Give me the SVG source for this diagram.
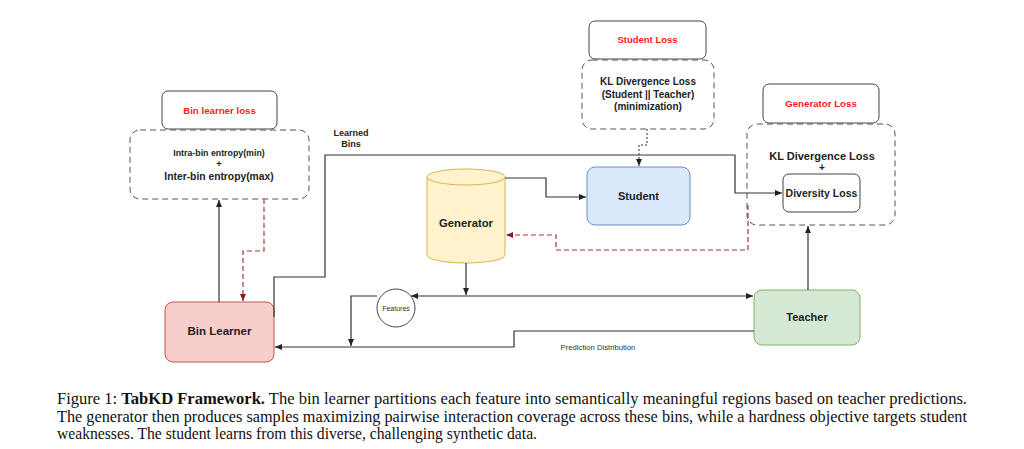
<svg xmlns="http://www.w3.org/2000/svg" width="1024" height="449" viewBox="0 0 1024 449">
<defs>
<marker id="ah" markerWidth="8" markerHeight="8" refX="7" refY="4" orient="auto" markerUnits="userSpaceOnUse">
<path d="M0,1 L7,4 L0,7 Z" fill="#222"/>
</marker>
<marker id="ahr" markerWidth="8" markerHeight="8" refX="7" refY="4" orient="auto" markerUnits="userSpaceOnUse">
<path d="M0,1 L7,4 L0,7 Z" fill="#8b1a1a"/>
</marker>
<style>
.lbl{font-family:"Liberation Sans",Arial,sans-serif;font-weight:bold;text-anchor:middle;fill:#222}
.red{fill:#ff1a1a}
.sm{font-family:"Liberation Sans",Arial,sans-serif;text-anchor:middle;fill:#333}
.solid{fill:#fff;stroke:#444;stroke-width:1}
.dash{fill:none;stroke:#555;stroke-width:1;stroke-dasharray:6 4}
.ln{fill:none;stroke:#333;stroke-width:1.2}
.rd{fill:none;stroke:#a33;stroke-width:1.2;stroke-dasharray:5 3}
.cap{font-family:"Liberation Serif","Times New Roman",serif;font-size:16px;fill:#111}
</style>
</defs>
<rect width="1024" height="449" fill="#fff"/>

<g id="bin-loss">
<rect class="solid" x="162" y="91" width="115" height="38" rx="6"/>
<text class="lbl red" x="219.5" y="114" font-size="9.7">Bin learner loss</text>
<rect class="dash" x="130" y="130" width="179" height="69" rx="10"/>
<text class="lbl" x="219" y="156" font-size="8.8">Intra-bin entropy(min)</text>
<text class="lbl" x="219" y="167" font-size="9.5">+</text>
<text class="lbl" x="219" y="180" font-size="10.3">Inter-bin entropy(max)</text>
</g>

<g id="student-loss">
<rect class="solid" x="589" y="21" width="117" height="38" rx="6"/>
<text class="lbl red" x="647.5" y="43" font-size="9.5">Student Loss</text>
<rect class="dash" x="582" y="60" width="132" height="69" rx="10"/>
<text class="lbl" x="648" y="85" font-size="10">KL Divergence Loss</text>
<text class="lbl" x="648" y="98" font-size="10">(Student || Teacher)</text>
<text class="lbl" x="648" y="110" font-size="10">(minimization)</text>
</g>

<g id="generator-loss">
<rect class="solid" x="763" y="84" width="116" height="39" rx="6"/>
<text class="lbl red" x="821" y="107" font-size="9.7">Generator Loss</text>
<rect class="dash" x="747" y="124" width="148" height="101" rx="10"/>
<text class="lbl" x="822" y="160" font-size="11">KL Divergence Loss</text>
<text class="lbl" x="822" y="171" font-size="10">+</text>
<rect class="solid" x="783" y="174" width="77" height="38" rx="6"/>
<text class="lbl" x="821.5" y="197" font-size="10.5">Diversity Loss</text>
</g>

<g id="student">
<rect x="587" y="167" width="103" height="58" rx="8" fill="#dae8fc" stroke="#6c8ebf" stroke-width="1"/>
<text class="lbl" x="638.5" y="200" font-size="11">Student</text>
</g>

<g id="generator">
<path d="M427,177 L427,255 A39,8 0 0 0 505,255 L505,177" fill="#fff2cc" stroke="#d6b656" stroke-width="1"/>
<ellipse cx="466" cy="177" rx="39" ry="8" fill="#fff2cc" stroke="#d6b656" stroke-width="1"/>
<text class="lbl" x="466" y="227" font-size="11.3">Generator</text>
</g>

<g id="bin-learner">
<rect x="165" y="302" width="109" height="60" rx="8" fill="#f8cecc" stroke="#b85450" stroke-width="1"/>
<text class="lbl" x="219.5" y="335" font-size="11.5">Bin Learner</text>
</g>

<g id="teacher">
<rect x="754" y="290" width="106" height="55" rx="8" fill="#d5e8d4" stroke="#82b366" stroke-width="1"/>
<text class="lbl" x="807" y="321" font-size="11">Teacher</text>
</g>

<g id="features">
<circle cx="396" cy="308" r="19" fill="#fff" stroke="#444" stroke-width="1"/>
<text class="sm" x="396" y="310.5" font-size="7">Features</text>
</g>

<g id="labels">
<text class="lbl" x="351" y="136" font-size="9">Learned</text>
<text class="lbl" x="351" y="147" font-size="9">Bins</text>
<text class="sm" x="598" y="350" font-size="7.7">Prediction Distribution</text>
</g>

<g id="connectors">
<path class="ln" d="M219,302 L219,200" marker-end="url(#ah)"/>
<path class="rd" d="M264,199 L264,251 L243,251 L243,301" marker-end="url(#ahr)"/>
<path class="ln" d="M274,317 L274,277 L325,277 L325,155 L735,155 L735,193 L782,193" marker-end="url(#ah)"/>
<path class="ln" d="M505,178 L546,178 L546,197 L586,197" marker-end="url(#ah)"/>
<path d="M647,129 L647,145 L639,145 L639,166" fill="none" stroke="#333" stroke-width="1" stroke-dasharray="2 2" marker-end="url(#ah)"/>
<path class="rd" d="M748,205 L748,250 L556,250 L556,235 L506,235" marker-end="url(#ahr)"/>
<path class="ln" d="M466,263 L466,295" marker-end="url(#ah)"/>
<path class="ln" d="M466,296 L753,296" marker-end="url(#ah)"/>
<path class="ln" d="M466,296 L411,296" marker-end="url(#ah)"/>
<path class="ln" d="M377,296 L351,296 L351,346" marker-end="url(#ah)"/>
<path class="ln" d="M754,331 L514,331 L514,347 L275,347" marker-end="url(#ah)"/>
<path class="ln" d="M808,290 L808,226" marker-end="url(#ah)"/>
</g>

<g id="caption">
<text class="cap" x="57" y="404" textLength="910" lengthAdjust="spacingAndGlyphs">Figure 1: <tspan font-weight="bold">TabKD Framework.</tspan> The bin learner partitions each feature into semantically meaningful regions based on teacher predictions.</text>
<text class="cap" x="57" y="422" textLength="910" lengthAdjust="spacingAndGlyphs">The generator then produces samples maximizing pairwise interaction coverage across these bins, while a hardness objective targets student</text>
<text class="cap" x="57" y="439" textLength="480" lengthAdjust="spacingAndGlyphs">weaknesses. The student learns from this diverse, challenging synthetic data.</text>
</g>
</svg>
